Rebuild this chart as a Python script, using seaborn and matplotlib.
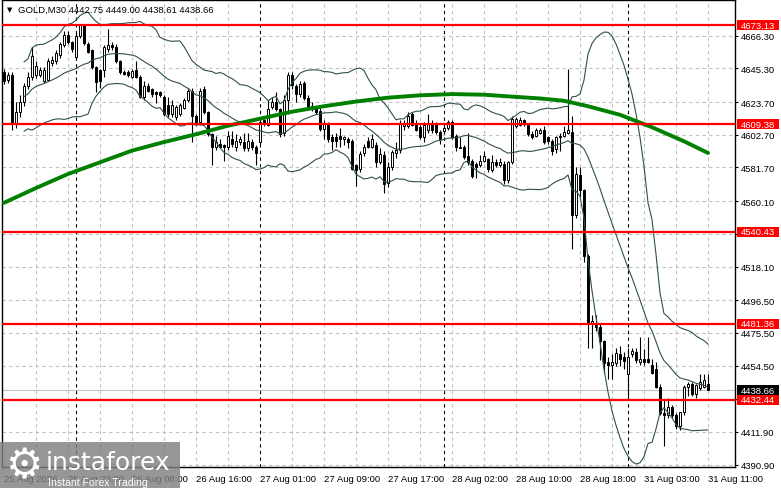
import numpy as np
import pandas as pd
import matplotlib
matplotlib.use("Agg")
import matplotlib.pyplot as plt
import matplotlib.transforms as mtransforms
from matplotlib.patches import Rectangle
import seaborn as sns

# ---------- GOLD M30 candles, bar 0 = 25 Aug 15:00
opens = [4643, 4638, 4641, 4610, 4617, 4624, 4634, 4640, 4641, 4641,
         4637.5, 4638, 4649, 4650, 4654, 4660, 4667, 4662, 4652.6, 4666,
         4673, 4661, 4657, 4646, 4644, 4644, 4658, 4660, 4659, 4650,
         4643, 4643, 4640, 4644, 4640, 4627, 4634, 4632, 4630, 4630,
         4627, 4622, 4616, 4614, 4616, 4620, 4625, 4631, 4615, 4611,
         4632, 4617, 4603, 4595, 4597, 4596, 4595, 4600, 4595, 4598,
         4598, 4594, 4598, 4595, 4598, 4612, 4609, 4620.5, 4624, 4619,
         4604, 4625, 4641, 4634, 4629, 4636, 4626, 4621, 4620, 4618,
         4606.6, 4610, 4601, 4601, 4602, 4600, 4600, 4599, 4583, 4581,
         4591, 4599, 4595, 4596, 4585, 4590, 4572, 4582, 4591, 4592.6,
         4608, 4608, 4616, 4610, 4607.6, 4601, 4605.5, 4610, 4609.7, 4604.4,
         4605, 4607, 4611, 4602, 4595, 4594.8, 4589, 4586, 4584, 4583,
         4586, 4587, 4580, 4585, 4583, 4584, 4573.5, 4585, 4608, 4609,
         4612, 4608.7, 4603, 4602, 4604, 4605.5, 4601, 4599, 4593.7, 4601,
         4602, 4604, 4604.4, 4551, 4577, 4567, 4525, 4481, 4482, 4479,
         4470, 4457, 4455, 4456, 4462, 4460, 4449, 4462, 4463, 4457,
         4459, 4459, 4455, 4452, 4441, 4424, 4423, 4428, 4422.5, 4416,
         4424.6, 4441, 4443, 4436.5, 4440, 4441, 4442.75]
highs = [4645, 4643, 4643, 4624, 4628, 4636, 4643, 4659, 4650, 4646,
         4646, 4652, 4653, 4657, 4662, 4669, 4669, 4663, 4668, 4674,
         4674, 4662, 4658, 4647, 4645, 4660, 4670.7, 4662, 4661, 4651,
         4644, 4644, 4645, 4650, 4641, 4637, 4636, 4633, 4631, 4631,
         4628, 4627, 4625, 4622, 4623, 4626, 4633, 4633, 4616, 4633,
         4634, 4618, 4604, 4602, 4600, 4597, 4605, 4605, 4603, 4602,
         4604, 4604, 4600, 4596, 4613, 4613, 4625, 4627, 4630, 4620,
         4628, 4643, 4643, 4635, 4637, 4637, 4628, 4624, 4621, 4620,
         4612, 4611, 4603, 4604, 4607, 4602, 4601, 4600, 4584, 4592,
         4597, 4601, 4603, 4598, 4594, 4592, 4585, 4593, 4598, 4612,
         4612, 4617, 4617, 4612, 4609, 4611, 4616, 4612, 4611, 4606,
         4608, 4612, 4612, 4603, 4601, 4596, 4604, 4587, 4585, 4590,
         4592, 4588, 4590, 4587, 4588, 4586, 4586, 4615, 4614, 4614,
         4613, 4610, 4605, 4607, 4607, 4608, 4602, 4600, 4602, 4604,
         4608, 4645, 4615, 4582, 4582, 4568, 4526, 4487, 4487, 4481,
         4471, 4460, 4462, 4466, 4467, 4463, 4466, 4466, 4466, 4473,
         4465, 4473, 4459, 4457, 4443, 4433, 4434, 4429, 4424, 4425,
         4442, 4444, 4444, 4443, 4449, 4449, 4449.00]
lows = [4635, 4636, 4606, 4607, 4614, 4621, 4632, 4638, 4639, 4640,
        4636, 4637, 4647, 4648, 4652, 4659, 4661, 4656, 4651, 4665,
        4660, 4655, 4645, 4630, 4633, 4640, 4656, 4657, 4649, 4642,
        4641, 4640, 4639, 4639, 4626, 4625, 4630, 4627, 4623, 4627,
        4615, 4614, 4614, 4612, 4615, 4619, 4624, 4598, 4609, 4609,
        4616, 4602, 4583, 4593, 4594, 4586, 4593, 4595, 4592, 4596,
        4592, 4592, 4593, 4583, 4597, 4608, 4608, 4619, 4618, 4601,
        4602, 4616, 4632, 4624, 4627, 4625, 4619, 4618, 4616, 4605,
        4600, 4598, 4593, 4595, 4595, 4596, 4594, 4580, 4570, 4579,
        4589, 4594, 4594, 4582, 4584, 4565, 4569, 4580, 4588, 4591,
        4606, 4607, 4608, 4605, 4600, 4598, 4604, 4604, 4603, 4597,
        4603, 4606, 4600, 4592, 4594, 4587, 4583, 4575, 4575, 4582,
        4585, 4579, 4579, 4582, 4582, 4571, 4572, 4584, 4607, 4608,
        4608, 4602, 4600, 4601, 4603, 4597, 4597, 4590, 4591, 4592,
        4601, 4603, 4529.5, 4549, 4563, 4521, 4466, 4466, 4477, 4458,
        4450, 4446, 4446, 4454, 4454, 4452, 4433, 4460, 4456, 4455,
        4455, 4456, 4449, 4440, 4423, 4403, 4421, 4421, 4414, 4413,
        4423, 4435, 4435, 4434, 4439, 4440, 4438.61]
closes = [4637, 4641, 4610, 4617, 4624, 4634, 4640, 4653, 4647, 4644,
          4644, 4650, 4651, 4655, 4661, 4667, 4662, 4658, 4666, 4673,
          4661.6, 4656, 4646, 4636.5, 4637, 4659, 4660, 4659, 4650, 4643,
          4642, 4641, 4643.5, 4640, 4627, 4634, 4631, 4629, 4629, 4628.5,
          4616, 4616, 4622, 4620.5, 4621.5, 4625, 4631, 4615, 4611, 4631,
          4617, 4603.4, 4595, 4598, 4595, 4595, 4602, 4597, 4599, 4600,
          4594, 4599, 4595, 4591, 4611, 4610, 4619.4, 4623.7, 4619, 4603,
          4625, 4641, 4634.4, 4629, 4635.5, 4626, 4620.5, 4619, 4617, 4606.6,
          4610, 4600, 4599, 4599, 4600, 4601, 4598, 4581, 4580, 4590.5,
          4595, 4595, 4600, 4585, 4590.5, 4571, 4582, 4591.5, 4593, 4609.7,
          4610, 4614.5, 4609, 4606, 4601.2, 4608.7, 4610, 4605.5, 4604.4, 4600,
          4607, 4610.8, 4601, 4594.8, 4594.5, 4588.3, 4585, 4576.5, 4582, 4586,
          4589, 4581, 4585, 4583, 4585, 4573.5, 4585, 4613, 4613, 4612,
          4610, 4603.3, 4601.5, 4605.5, 4605.5, 4598, 4599, 4592.5, 4601, 4602,
          4604.4, 4605.5, 4551, 4577.7, 4567, 4525, 4481.3, 4483, 4479, 4470,
          4456, 4455, 4457, 4462.5, 4459, 4457.5, 4460, 4464, 4458, 4459,
          4457, 4457, 4450, 4441, 4424, 4423, 4428, 4423, 4416, 4424.6,
          4441, 4443, 4436.5, 4442, 4444, 4445, 4438.66]

# green moving average, read at a number of bars
ma_bars = [0, 8, 16, 24, 32, 40, 48, 56, 64, 72, 80, 88, 96, 104, 112, 120,
           128, 134, 140, 146, 154, 162, 170, 176]
ma_values = [4559, 4568.5, 4577.5, 4585, 4592.5, 4598, 4603, 4608.5, 4613, 4617.5,
             4621, 4624, 4626.5, 4628, 4628.8, 4628.4, 4627, 4626, 4624.5, 4621,
             4615.5, 4607.5, 4598.5, 4591]

levels = [4673.13, 4609.38, 4540.43, 4481.36, 4432.44]
last_price = 4438.66
price_ticks = [4666.30, 4645.30, 4623.70, 4602.70, 4581.70, 4560.10, 4539.10,
               4518.10, 4496.50, 4475.50, 4454.50, 4433.20, 4411.90, 4390.90]
hidden_ticks = [4539.10, 4433.20]  # covered by the level boxes
time_label_bars = [0, 16, 32, 48, 64, 80, 96, 112, 128, 144, 160, 176]
time_labels = ["25 Aug 2026", "25 Aug 23:00", "26 Aug 08:00", "26 Aug 16:00",
               "27 Aug 01:00", "27 Aug 09:00", "27 Aug 17:00", "28 Aug 02:00",
               "28 Aug 10:00", "28 Aug 18:00", "31 Aug 03:00", "31 Aug 11:00"]
day_break_bars = [18, 64, 110, 156]
title = "GOLD,M30 4442.75 4449.00 4438.61 4438.66"

W, H = 781, 489
FS = 6.8
Y0, Y1 = 4389.4, 4689.2
PX = (Y1 - Y0) / 467  # price per pixel

sns.set_style("white")
plt.rcParams["font.family"] = ["Liberation Sans", "DejaVu Sans"]

df = pd.DataFrame({"bar": np.arange(len(closes)), "open": opens, "high": highs,
                   "low": lows, "close": closes})
up = df["close"] >= df["open"]

# Bollinger bands (20, 2) from the closes
roll = df["close"].rolling(20, min_periods=6)
df["mid"] = roll.mean()
df["sd"] = roll.std(ddof=0)
df["upper"] = df["mid"] + 2 * df["sd"]
df["lower"] = df["mid"] - 2 * df["sd"]

fig = plt.figure(figsize=(W / 100, H / 100), dpi=100)
fig.patch.set_facecolor("white")
ax = fig.add_axes([2 / W, 21 / H, 733 / W, 467 / H])
ax.set_facecolor("white")

# grid
grid_kw = dict(color="#c0c0c0", lw=0.8, linestyle=(0, (3, 3)), zorder=1)
for p in price_ticks:
    ax.axhline(p, **grid_kw)
for b in range(8, 177, 8):
    if b not in day_break_bars:
        ax.axvline(b, **grid_kw)
for b in day_break_bars:
    ax.axvline(b, color="black", lw=0.8, linestyle=(0, (3, 3)), zorder=1.5)
ax.axhline(last_price, color="#c0c0c0", lw=0.8, zorder=1.6)

# candles
ax.vlines(df["bar"], df["low"], df["high"], color="black", lw=0.8, zorder=3)
body = (df["close"] - df["open"]).abs().clip(lower=0.6)
ax.bar(df["bar"], body, bottom=np.minimum(df["open"], df["close"]), width=0.7,
       color=np.where(up, "white", "black"), edgecolor="black", linewidth=0.7,
       zorder=4)

# indicators
bands = df.dropna(subset=["mid"])
for col in ["upper", "mid", "lower"]:
    sns.lineplot(x=bands["bar"], y=bands[col], color="#2f4f4f", lw=0.8, ax=ax,
                 zorder=5)
sns.lineplot(x=ma_bars, y=ma_values, color="#008000", lw=2.8, ax=ax, zorder=6)

for lv in levels:
    ax.axhline(lv, color="#ff0000", lw=1.6, zorder=7)

ax.set_xlim(-0.5, 182.75)
ax.set_ylim(Y0, Y1)
ax.set_xlabel("")
ax.set_ylabel("")

# axes decoration MT4 style
for s in ax.spines.values():
    s.set_color("black")
    s.set_linewidth(1.0)
ax.yaxis.tick_right()
ax.set_yticks(price_ticks)
ax.set_yticklabels(["" if p in hidden_ticks else f"{p:.2f}" for p in price_ticks])
ax.set_xticks(time_label_bars)
ax.set_xticklabels(time_labels, ha="left")
ax.tick_params(axis="both", labelsize=FS, colors="black", length=2.5, width=0.8,
               direction="out", pad=2)
ax.tick_params(axis="x", pad=2.5)

# price boxes on the right scale
trans = mtransforms.blended_transform_factory(ax.transAxes, ax.transData)
box_x = 1 + 2 / 733
box_w = 42 / 733
box_h = 10 * PX


def price_box(value, colour):
    ax.add_patch(Rectangle((box_x, value - box_h / 2), box_w, box_h,
                           transform=trans, facecolor=colour, edgecolor="none",
                           clip_on=False, zorder=19))
    ax.text(box_x + 4 / 733, value, f"{value:.2f}", transform=trans,
            color="white", fontsize=FS, va="center", ha="left", clip_on=False,
            zorder=20)


for lv in levels:
    price_box(lv, "#ff0000")
price_box(last_price, "black")

# title line
fig.text(7 / W, 1 - 10 / H, "\u25bc", fontsize=5, color="black", va="center",
         family=["DejaVu Sans"])
fig.text(18 / W, 1 - 10 / H, title, fontsize=FS, color="black", va="center")

# watermark
fig.patches.append(Rectangle((0, 0), 180 / W, 46 / H, transform=fig.transFigure,
                             facecolor="#808080", alpha=0.82, edgecolor="none",
                             zorder=10))
fig.text(24 / W, 23 / H, "\u2699", fontsize=30, color="white", ha="center",
         va="center", family=["DejaVu Sans"], zorder=11)
fig.text(46 / W, 26 / H, "instaforex", fontsize=18, color="white", ha="left",
         va="center", family=["DejaVu Sans"], zorder=11)
fig.text(48 / W, 6 / H, "Instant Forex Trading", fontsize=7.6, color="white",
         ha="left", va="center", zorder=11)

fig.savefig("out.png", dpi=100, facecolor="white")
